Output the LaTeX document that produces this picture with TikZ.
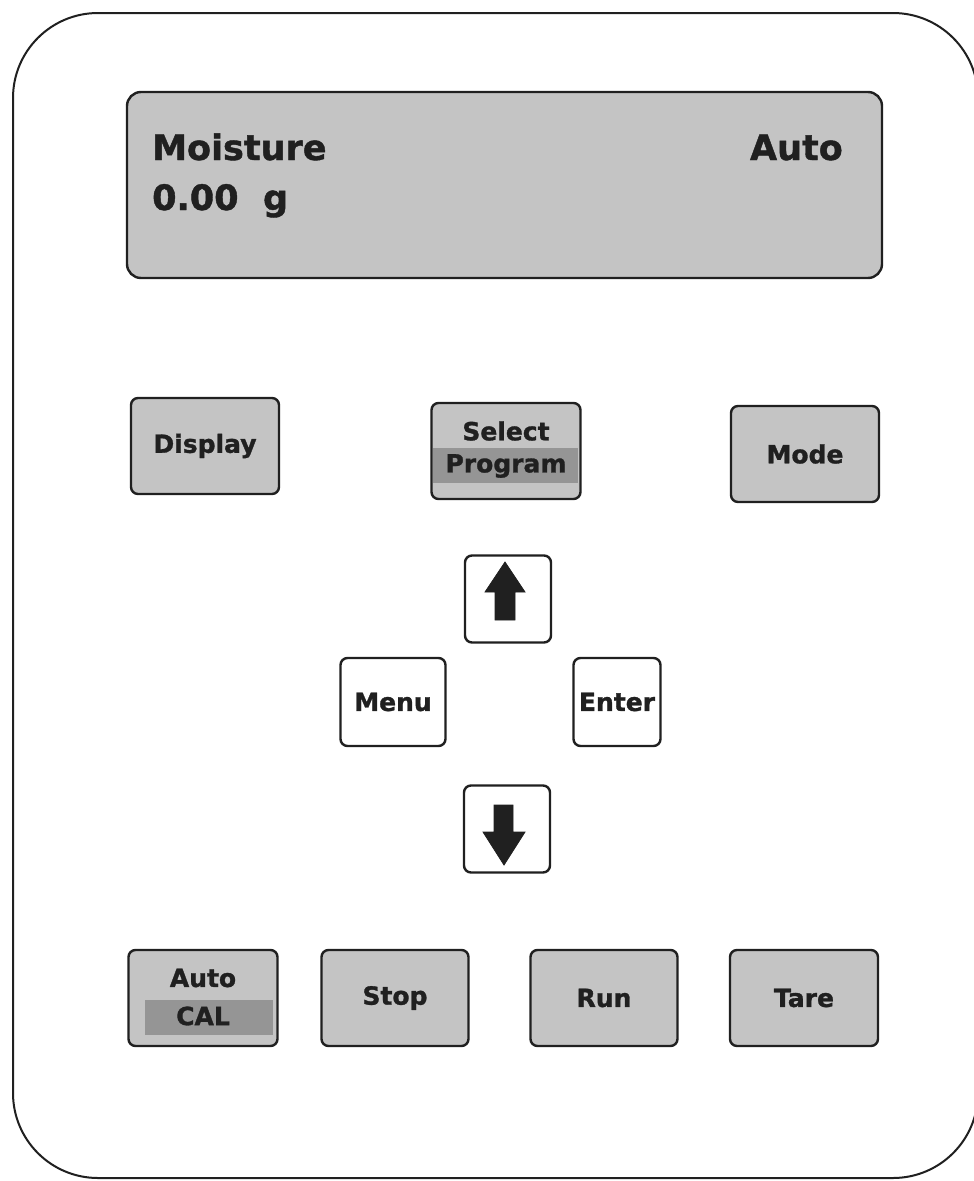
\documentclass[tikz,border=0pt]{standalone}
\usepackage{fontspec}
\setmainfont{DejaVu Sans}[BoldFeatures={FakeBold=1.2}]
\usetikzlibrary{positioning,calc}
\definecolor{keygray}{HTML}{C4C4C4}
\definecolor{keyband}{HTML}{959595}
\definecolor{keyink}{HTML}{202020}
\tikzset{
  key/.style={draw=keyink, line width=2.4pt, rounded corners=7pt, fill=keygray,
    minimum width=148pt, minimum height=96pt, inner sep=0pt,
    font=\fontsize{25}{29}\selectfont\bfseries, text=keyink},
  softkey/.style={key, fill=white, minimum width=86pt, minimum height=87pt},
  lcd/.style={font=\fontsize{35}{40}\selectfont\bfseries, text=keyink, inner sep=0pt},
  label/.style={font=\fontsize{25}{29}\selectfont\bfseries, text=keyink, inner sep=0pt},
  tip/.style={fill=keyink, draw=keyink, line width=0.8pt, line join=miter},
}

\begin{document}
\begin{tikzpicture}[x=1pt, y=-1pt]
  \useasboundingbox (0,0) rectangle (974,1181);
  \clip (0,0) rectangle (974,1181);
  \fill[white] (0,0) rectangle (974,1181);
  % housing
  \draw[keyink, line width=2pt, rounded corners=85pt] (13,13) rectangle (978,1178);
  % display window
  \draw[keyink, line width=2.4pt, rounded corners=14pt, fill=keygray] (127,92) rectangle (882,278);
  \node[lcd, anchor=base west] (moist) at (152,160) {Moisture};
  \node[lcd, anchor=base east] (auto) at (843,160) {Auto};
  \node[lcd, anchor=base west] (weight) at (152,210) {0.00\hspace{0.7em}g};
  % top row
  \node[key] (display) at (205,446) {Display};
  \node[key, minimum width=149pt] (select) at (506,451) {};
  \fill[keyband] ($(select.center)+(-73,-3)$) rectangle ($(select.center)+(72,32)$);
  \node[label] (selectA) at ($(select.center)+(0,-20)$) {Select};
  \node[label] (selectB) at ($(select.center)+(0,15)$) {Program};
  \node[key] (mode) at (805,454) {Mode};
  % cursor keys
  \node[softkey] (up) at (508,599) {};
  \fill[tip] ($(up.center)+(-3,-37)$) -- ($(up.center)+(17,-7)$) -- ($(up.center)+(7,-7)$)
    -- ($(up.center)+(7,21)$) -- ($(up.center)+(-13,21)$) -- ($(up.center)+(-13,-7)$)
    -- ($(up.center)+(-23,-7)$) -- cycle;
  \node[softkey, minimum width=105pt, minimum height=88pt] (menu) at (393,702) {Menu};
  \node[softkey, minimum width=87pt, minimum height=88pt] (enter) at (617,702) {Enter};
  \node[softkey] (down) at (507,829) {};
  \fill[tip] ($(down.center)+(-3,36)$) -- ($(down.center)+(18,3)$) -- ($(down.center)+(6,3)$)
    -- ($(down.center)+(6,-24)$) -- ($(down.center)+(-13,-24)$) -- ($(down.center)+(-13,3)$)
    -- ($(down.center)+(-24,3)$) -- cycle;
  % bottom row
  \node[key, minimum width=149pt] (cal) at (203,998) {};
  \fill[keyband] ($(cal.center)+(-58,2)$) rectangle ($(cal.center)+(70,37)$);
  \node[label] (calA) at ($(cal.center)+(0,-20)$) {Auto};
  \node[label] (calB) at ($(cal.center)+(0,18)$) {CAL};
  \node[key, minimum width=147pt] (stop) at (395,998) {Stop};
  \node[key, minimum width=147pt] (run) at (604,998) {Run};
  \node[key] (tare) at (804,998) {Tare};
\end{tikzpicture}
\end{document}
